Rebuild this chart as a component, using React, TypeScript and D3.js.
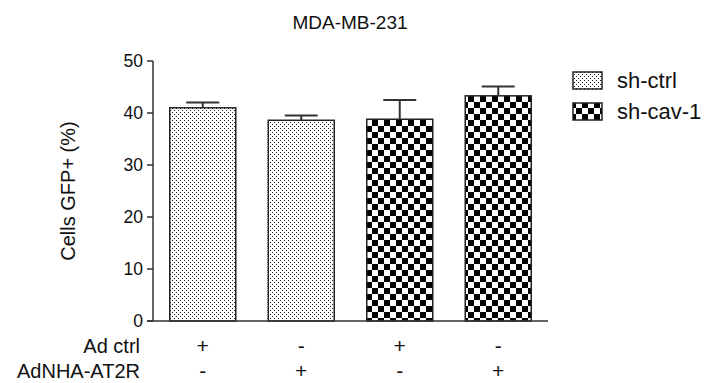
import React from "react";
import * as d3 from "d3";

const title = "MDA-MB-231";
const yLabel = "Cells GFP+ (%)";
const categories = ["c1", "c2", "c3", "c4"];
const values = [41.0, 38.6, 38.8, 43.3];
const errors = [1.0, 0.9, 3.7, 1.8];
const groups = ["sh-ctrl", "sh-ctrl", "sh-cav-1", "sh-cav-1"];
const seriesNames = ["sh-ctrl", "sh-cav-1"];
const rowLabels = ["Ad ctrl", "AdNHA-AT2R"];
const adCtrl = ["+", "-", "+", "-"];
const adNHA = ["-", "+", "-", "+"];
const yTicks = [0, 10, 20, 30, 40, 50];

const W = 711;
const H = 383;
const FONT = "'Liberation Sans', Arial, sans-serif";
const AXIS = "#333";

export default function App() {
  const y = d3.scaleLinear().domain([0, 50]).range([321, 61]);
  const x = d3
    .scaleBand<string>()
    .domain(categories)
    .range([153, 548])
    .paddingInner(0.33)
    .paddingOuter(0.17);
  const bw = x.bandwidth();
  const fillFor = (g: string) => (g === "sh-ctrl" ? "url(#dots)" : "url(#checks)");
  const rows = [adCtrl, adNHA];

  return (
    <svg
      width={W}
      height={H}
      style={{ position: "absolute", left: 0, top: 0, background: "#fff" }}
      fontFamily={FONT}
    >
      <defs>
        <pattern id="dots" width={4} height={4} patternUnits="userSpaceOnUse">
          <rect width={4} height={4} fill="#fff" />
          <rect x={0} y={0} width={1} height={1} fill="#222" />
          <rect x={2} y={2} width={1} height={1} fill="#222" />
        </pattern>
        <pattern id="checks" width={12} height={12} patternUnits="userSpaceOnUse">
          <rect width={12} height={12} fill="#fff" />
          <rect x={0} y={0} width={6} height={6} fill="#000" />
          <rect x={6} y={6} width={6} height={6} fill="#000" />
        </pattern>
      </defs>
      <rect width={W} height={H} fill="#fff" />
      <text x={350} y={29} textAnchor="middle" fontSize={19} fill="#111">
        {title}
      </text>

      {/* bars */}
      {categories.map((c, i) => {
        const x0 = x(c)!;
        const cx = x0 + bw / 2;
        const yv = y(values[i]);
        const ye = y(values[i] + errors[i]);
        return (
          <g key={c}>
            <rect
              x={x0}
              y={yv}
              width={bw}
              height={y(0) - yv}
              fill={fillFor(groups[i])}
              stroke="#222"
              strokeWidth={1.5}
            />
            <line x1={cx} x2={cx} y1={yv} y2={ye} stroke={AXIS} strokeWidth={2} />
            <line x1={cx - bw / 4} x2={cx + bw / 4} y1={ye} y2={ye} stroke={AXIS} strokeWidth={2} />
          </g>
        );
      })}

      {/* y axis */}
      <line x1={153} x2={153} y1={y(50)} y2={y(0)} stroke={AXIS} strokeWidth={1.5} />
      {yTicks.map((t) => (
        <g key={t}>
          <line x1={147} x2={153} y1={y(t)} y2={y(t)} stroke={AXIS} strokeWidth={1.5} />
          <text x={143} y={y(t)} dy="0.35em" textAnchor="end" fontSize={17.5} fill="#111">
            {t}
          </text>
        </g>
      ))}
      {/* x axis */}
      <line x1={147} x2={548} y1={y(0)} y2={y(0)} stroke={AXIS} strokeWidth={1.5} />

      <text
        transform={`translate(75,${(y(0) + y(50)) / 2}) rotate(-90)`}
        textAnchor="middle"
        fontSize={20}
        fill="#111"
      >
        {yLabel}
      </text>

      {/* condition rows */}
      {rowLabels.map((lab, r) => (
        <g key={lab}>
          <text x={140} y={353 + r * 25} textAnchor="end" fontSize={20} fill="#111">
            {lab}
          </text>
          {categories.map((c, i) => (
            <text
              key={c}
              x={x(c)! + bw / 2}
              y={353 + r * 25}
              textAnchor="middle"
              fontSize={21}
              fill="#111"
            >
              {rows[r][i]}
            </text>
          ))}
        </g>
      ))}

      {/* legend */}
      {seriesNames.map((s, i) => (
        <g key={s}>
          <rect
            x={573}
            y={72 + i * 31}
            width={29}
            height={17}
            fill={fillFor(s)}
            stroke="#222"
            strokeWidth={1.5}
          />
          <text x={617} y={88 + i * 31} fontSize={22} fill="#111">
            {s}
          </text>
        </g>
      ))}
    </svg>
  );
}
